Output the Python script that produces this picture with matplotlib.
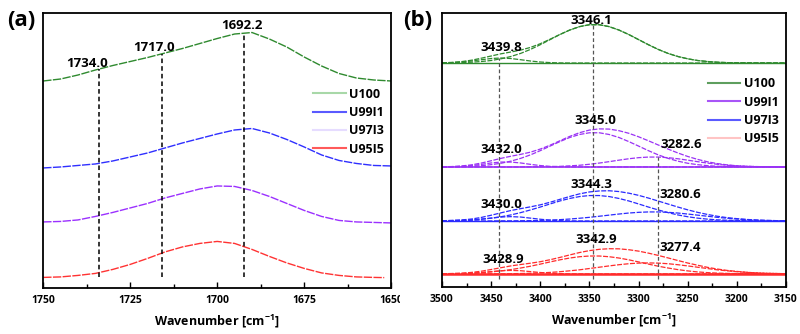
import numpy as np
import matplotlib.pyplot as plt
from matplotlib.lines import Line2D
from matplotlib.ticker import MultipleLocator
from matplotlib.transforms import Bbox, TransformedBbox

plt.rcParams['font.family'] = ['Open Sans', 'DejaVu Sans']
plt.rcParams['font.weight'] = 'bold'
plt.rcParams['mathtext.fontset'] = 'custom'
plt.rcParams['mathtext.rm'] = 'Open Sans:bold'
plt.rcParams['mathtext.bf'] = 'Open Sans:bold'
plt.rcParams['mathtext.default'] = 'bf'

# ---------------- panel (a): C=O band, stacked spectra ----------------
wn_a = [1750, 1745, 1740, 1735, 1730, 1725, 1720, 1715, 1710, 1705, 1700,
        1695, 1690, 1685, 1680, 1675, 1670, 1665, 1660, 1655, 1650]
a_u100 = [207, 209, 213, 218, 222.5, 226.5, 230.5, 235, 239.5, 244.5, 249.5,
          254, 255.5, 249, 241, 231, 222, 214.5, 210, 208, 207]
a_u99i1 = [120, 121, 122.5, 124, 127, 131, 135, 140, 145, 149.5, 154,
           158, 159.5, 155, 148.5, 141, 133, 127.5, 124.5, 122.5, 122]
a_u97i3 = [66, 66.5, 68, 71.5, 75.5, 80, 84.5, 90, 94.5, 99, 102,
           101.5, 97.5, 91.5, 84.5, 77.5, 71.5, 67.5, 66, 65.5, 65]
wn_a_red = [1750, 1745, 1740, 1735, 1730, 1725, 1720, 1715, 1710, 1705, 1700,
            1695, 1690, 1685, 1680, 1675, 1670, 1665, 1660, 1655, 1652]
a_u95i5 = [10.5, 11, 12.5, 14.5, 18.5, 23.5, 29.5, 36, 41, 44.5, 46.5,
           44.5, 38.5, 31.5, 25, 19.5, 15, 12.5, 11, 10.5, 10.3]

a_peaks = [1734.0, 1716.0, 1692.2]
a_peak_text = ['1734.0', '1717.0', '1692.2']
a_text_x = [1737.4, 1718.1, 1692.8]
a_text_y = [225, 241, 263]

# ---------------- panel (b): N-H band, fitted components ----------------
wn_b = list(range(3500, 3149, -10))
zeros22 = [0.0] * 22
zeros21 = [0.0] * 21

# U100
b_u100_left = [0.1, 0.4, 1.0, 2.0, 3.3, 4.5, 5.0, 4.5, 3.3, 2.0, 1.0, 0.4, 0.1, 0.0] + zeros22
b_u100_main = [0.1, 0.2, 0.4, 0.8, 1.5, 2.5, 4.2, 6.5, 9.6, 13.6, 18.3, 23.4, 28.5, 33.0,
               36.4, 38.3, 38.3, 36.4, 33.0, 28.5, 23.4, 18.3, 13.6, 9.6, 6.5, 4.2,
               2.5, 1.5, 0.8, 0.4, 0.2, 0.1, 0.0, 0.0, 0.0, 0.0]
b_u100_env = [0.2, 0.6, 1.4, 2.8, 4.8, 7.0, 9.2, 11.0, 12.9, 15.6, 19.3, 23.8, 28.6, 33.0,
              36.4, 38.3, 38.3, 36.4, 33.0, 28.5, 23.4, 18.3, 13.6, 9.6, 6.5, 4.2,
              2.5, 1.5, 0.8, 0.4, 0.2, 0.1, 0.0, 0.0, 0.0, 0.0]
# U99I1
b_u99_left = [0.1, 0.2, 0.6, 1.4, 2.6, 4.0, 4.9, 4.9, 4.0, 2.6, 1.4, 0.6, 0.2, 0.1] + zeros22
b_u99_main = [0.1, 0.2, 0.4, 0.7, 1.3, 2.3, 3.7, 5.8, 8.6, 12.1, 16.3, 20.9, 25.4, 29.5,
              32.5, 34.2, 34.2, 32.5, 29.5, 25.4, 20.9, 16.3, 12.1, 8.6, 5.8, 3.7,
              2.3, 1.3, 0.7, 0.4, 0.2, 0.1, 0.0, 0.0, 0.0, 0.0]
b_u99_right = [0.0, 0.0, 0.0, 0.0, 0.0, 0.0, 0.0, 0.0, 0.0, 0.1, 0.2, 0.3, 0.6, 1.1,
               1.7, 2.7, 3.9, 5.3, 6.8, 8.2, 9.3, 9.9, 9.9, 9.3, 8.2, 6.8,
               5.3, 3.9, 2.7, 1.7, 1.1, 0.6, 0.3, 0.2, 0.1, 0.0]
b_u99_env = [0.2, 0.4, 1.0, 2.1, 3.9, 6.2, 8.6, 10.7, 12.6, 14.8, 17.9, 21.8, 26.2, 30.6,
             34.3, 36.9, 38.1, 37.9, 36.3, 33.7, 30.2, 26.2, 22.0, 17.9, 14.0, 10.5,
             7.6, 5.2, 3.4, 2.1, 1.2, 0.7, 0.4, 0.2, 0.1, 0.0]
# U97I3
b_u97_left = [0.0, 0.1, 0.3, 0.8, 1.7, 2.8, 3.9, 4.3, 3.9, 2.8, 1.7, 0.8, 0.3, 0.1, 0.0] + zeros21
b_u97_main = [0.2, 0.4, 0.7, 1.1, 1.8, 2.8, 4.2, 6.0, 8.3, 11.0, 13.9, 17.0, 20.0, 22.5,
              24.4, 25.4, 25.4, 24.4, 22.5, 20.0, 17.0, 13.9, 11.0, 8.3, 6.0, 4.2,
              2.8, 1.8, 1.1, 0.7, 0.4, 0.2, 0.1, 0.0, 0.0, 0.0]
b_u97_right = [0.0, 0.0, 0.0, 0.0, 0.0, 0.0, 0.1, 0.1, 0.2, 0.3, 0.5, 0.8, 1.3, 1.9,
               2.7, 3.6, 4.7, 5.8, 6.9, 7.9, 8.6, 9.0, 9.0, 8.6, 7.9, 6.9,
               5.8, 4.7, 3.6, 2.7, 1.9, 1.3, 0.8, 0.5, 0.3, 0.2]
b_u97_env = [0.2, 0.5, 1.0, 1.9, 3.5, 5.7, 8.1, 10.4, 12.3, 14.1, 16.1, 18.7, 21.6, 24.5,
             27.1, 29.0, 30.0, 30.2, 29.4, 27.8, 25.6, 22.9, 19.9, 16.9, 13.9, 11.1,
             8.6, 6.5, 4.7, 3.3, 2.3, 1.5, 0.9, 0.5, 0.3, 0.2]
# U95I5
b_u95_left = [0.0, 0.1, 0.3, 0.7, 1.4, 2.3, 3.2, 3.5, 3.2, 2.3, 1.4, 0.7, 0.3, 0.1, 0.0] + zeros21
b_u95_main = [0.2, 0.3, 0.5, 0.8, 1.3, 2.0, 3.0, 4.3, 5.9, 7.7, 9.8, 12.0, 14.1, 15.9,
              17.2, 17.9, 17.9, 17.2, 15.9, 14.1, 12.0, 9.8, 7.7, 5.9, 4.3, 3.0,
              2.0, 1.3, 0.8, 0.5, 0.3, 0.2, 0.0, 0.0, 0.0, 0.0]
b_u95_right = [0.0, 0.0, 0.0, 0.0, 0.0, 0.1, 0.1, 0.2, 0.4, 0.6, 1.0, 1.5, 2.2, 3.1,
               4.1, 5.4, 6.7, 8.0, 9.2, 10.2, 10.8, 11.0, 10.8, 10.2, 9.2, 8.0,
               6.7, 5.4, 4.1, 3.1, 2.2, 1.5, 1.0, 0.6, 0.4, 0.2]
b_u95_env = [0.2, 0.4, 0.7, 1.5, 2.7, 4.4, 6.2, 8.0, 9.4, 10.7, 12.2, 14.2, 16.5, 19.0,
             21.4, 23.3, 24.6, 25.2, 25.1, 24.2, 22.8, 20.8, 18.5, 16.0, 13.4, 10.9,
             8.7, 6.6, 4.9, 3.5, 2.5, 1.6, 1.0, 0.6, 0.4, 0.2]

b_offsets = [224, 120, 66, 13]          # stacking of the four samples
b_peaks = [3442, 3346, 3280]
b_text = ['3346.1', '3439.8', '3345.0', '3432.0', '3282.6', '3344.3',
          '3430.0', '3280.6', '3342.9', '3428.9', '3277.4']
b_text_x = [3347.7, 3439.3, 3344.3, 3439.3, 3256.2, 3347.7, 3439.3, 3257.9,
            3342.6, 3437.6, 3257.9]
b_text_y = [267, 240, 166, 137, 142, 102, 82, 92, 47, 27, 39]

labels = ['U100', 'U99I1', 'U97I3', 'U95I5']
labels_b = ['U100', 'U99I1', 'U97I3', 'U95I5']

# colours
a_colors = ['#2f8a2f', '#2f2fff', '#9b30ff', '#ff3333']
a_legend_colors = ['#a8d8a8', '#5a5aff', '#e6dcff', '#ff5a5a']
b_colors = ['#2f8a2f', '#9a32f5', '#2a2aff', '#ff2b2b']
b_legend_colors = ['#5e9e5e', '#a855f7', '#5a5aff', '#ffc4c4']

fig = plt.figure(figsize=(8, 3.34), dpi=100)


def style_axes(ax):
    for s in ax.spines.values():
        s.set_linewidth(1.3)
        s.set_color('black')
    ax.set_yticks([])
    ax.tick_params(axis='x', which='both', direction='in', top=False, width=1.0,
                   labelsize=7.5, pad=5)
    ax.tick_params(axis='x', which='major', length=4.5)
    ax.tick_params(axis='x', which='minor', length=3)
    ax.set_xlabel(r'Wavenumber [cm$^{-1}$]', fontsize=9, fontweight='bold', labelpad=5)


# ---- panel (a)
ax1 = fig.add_axes([0.054, 0.138, 0.435, 0.823])
curves_a = [(wn_a, a_u100), (wn_a, a_u99i1), (wn_a, a_u97i3), (wn_a_red, a_u95i5)]
for (x, y), c in zip(curves_a, a_colors):
    ax1.plot(x, y, color=c, lw=1.0, ls=(0, (6, 1)))

tops = np.interp(a_peaks, wn_a[::-1], a_u100[::-1])
ax1.vlines(a_peaks, a_u95i5[0], tops, colors='black', linestyles=(0, (3, 2)), lw=1.1)
for t, x, y in zip(a_peak_text, a_text_x, a_text_y):
    ax1.text(x, y, t, ha='center', va='center', fontsize=9.5, fontweight='bold')

ax1.set_xlim(1750, 1650)
ax1.set_ylim(0, 275)
ax1.set_xticks([1750, 1725, 1700, 1675, 1650])
ax1.xaxis.set_minor_locator(MultipleLocator(12.5))
style_axes(ax1)

handles = [Line2D([], [], color=c, lw=1.5) for c in a_legend_colors]
ax1.legend(handles, labels, loc='upper left', bbox_to_anchor=(0.776, 0.728),
           frameon=False, fontsize=9, handlelength=2.6, handletextpad=0.3,
           labelspacing=0.42, borderpad=0, borderaxespad=0)

# ---- panel (b)
ax2 = fig.add_axes([0.5525, 0.141, 0.43, 0.820])
groups = [
    [b_u100_left, b_u100_main, b_u100_env],
    [b_u99_left, b_u99_main, b_u99_right, b_u99_env],
    [b_u97_left, b_u97_main, b_u97_right, b_u97_env],
    [b_u95_left, b_u95_main, b_u95_right, b_u95_env],
]
base_lw = [1.0, 1.2, 1.0, 1.8]
for comps, off, c, blw in zip(groups, b_offsets, b_colors, base_lw):
    ax2.axhline(off, color=c, lw=blw)
    for comp in comps:
        ax2.plot(wn_b, np.array(comp) + off, color=c, lw=0.9, ls=(0, (4, 1.2)))

wn_inc = wn_b[::-1]
b_tops = [np.interp(b_peaks[0], wn_inc, b_u100_left[::-1]) + b_offsets[0],
          np.interp(b_peaks[1], wn_inc, b_u100_env[::-1]) + b_offsets[0],
          np.interp(b_peaks[2], wn_inc, b_u99_right[::-1]) + b_offsets[1]]
ax2.vlines(b_peaks, 8, b_tops, colors='#555555', linestyles=(0, (3, 2)), lw=0.9)
for t, x, y in zip(b_text, b_text_x, b_text_y):
    ax2.text(x, y, t, ha='center', va='center', fontsize=9.5, fontweight='bold')

ax2.set_xlim(3500, 3150)
ax2.set_ylim(0, 274)
ax2.set_xticks(list(range(3500, 3149, -50)))
ax2.xaxis.set_minor_locator(MultipleLocator(25))
style_axes(ax2)

handles_b = [Line2D([], [], color=c, lw=1.5) for c in b_legend_colors]
ax2.legend(handles_b, labels_b, loc='upper left', bbox_to_anchor=(0.773, 0.765),
           frameon=False, fontsize=9, handlelength=2.6, handletextpad=0.3,
           labelspacing=0.42, borderpad=0, borderaxespad=0)

fig.text(21 / 800, 1 - 21 / 334, '(a)', fontsize=16, fontweight='bold', ha='center', va='center')
fig.text(418 / 800, 1 - 21 / 334, '(b)', fontsize=16, fontweight='bold', ha='center', va='center')

# the left panel's last tick label is cut at the panel edge in the original
clip = TransformedBbox(Bbox([[0, 0], [0.5, 1]]), fig.transFigure)
for lbl in ax1.get_xticklabels():
    lbl.set_clip_on(True)
    lbl.set_clip_box(clip)

fig.savefig('out.png', dpi=100)
